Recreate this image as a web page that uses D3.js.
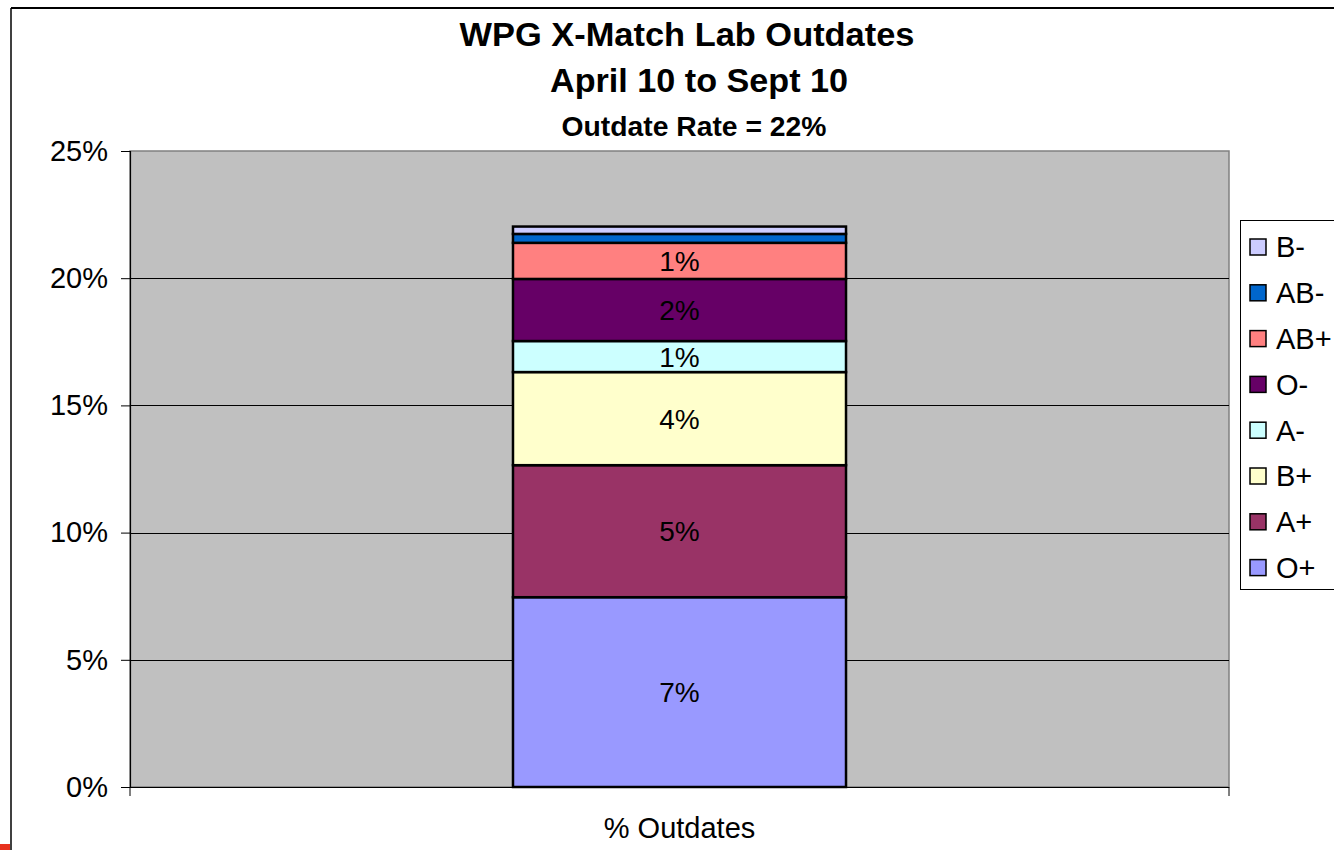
<!DOCTYPE html>
<html>
<head>
<meta charset="utf-8">
<script src="https://cdn.jsdelivr.net/npm/d3@7"></script>
<style>
  body { margin: 0; background: #fff; }
  text { font-family: Arial, "Liberation Sans", sans-serif; }
</style>
</head>
<body>
<div id="vis"></div>
<script>
// blood groups, bottom to top of the stack
var groups = ["O+", "A+", "B+", "A-", "O-", "AB+", "AB-", "B-"];
var outdates = [0.0746, 0.0519, 0.0366, 0.0122, 0.0244, 0.0142, 0.0035, 0.0029];
var groupColors = ["#9999ff", "#993366", "#ffffcc", "#ccffff", "#660066", "#ff8080", "#0066cc", "#ccccff"];
var categories = ["% Outdates"];
var yTicks = [0, 0.05, 0.10, 0.15, 0.20, 0.25];

var width = 1334, height = 850;
var plot = {left: 130, right: 1229, top: 151, bottom: 787};

var svg = d3.select("#vis").append("svg")
    .attr("width", width)
    .attr("height", height);

// outer frame bits
svg.append("line").attr("x1", 11).attr("x2", width).attr("y1", 8).attr("y2", 8)
    .style("stroke", "#000").style("stroke-width", 2);
svg.append("line").attr("x1", 11).attr("x2", 11).attr("y1", 8).attr("y2", height)
    .style("stroke", "#000").style("stroke-width", 1.5);
svg.append("rect").attr("x", 0).attr("y", 844).attr("width", 10).attr("height", 6)
    .style("fill", "#e8321e");

var x = d3.scaleBand()
    .domain(categories)
    .range([plot.left, plot.right])
    .paddingInner(0)
    .paddingOuter(1.15);

var y = d3.scaleLinear()
    .domain([0, 0.25])
    .range([plot.bottom, plot.top]);

// plot area
svg.append("rect")
    .attr("x", plot.left).attr("y", plot.top)
    .attr("width", plot.right - plot.left).attr("height", plot.bottom - plot.top)
    .style("fill", "#c0c0c0")
    .style("stroke", "#808080")
    .style("stroke-width", 1.5);

// gridlines
svg.selectAll(".grid")
    .data(yTicks.filter(function(d) { return d > 0 && d < 0.25; }))
    .enter().append("line")
    .attr("class", "grid")
    .attr("x1", plot.left).attr("x2", plot.right)
    .attr("y1", function(d) { return Math.round(y(d)) + 0.5; })
    .attr("y2", function(d) { return Math.round(y(d)) + 0.5; })
    .style("stroke", "#000").style("stroke-width", 1);

// stacked segments
var stacked = [];
var base = 0;
outdates.forEach(function(v, i) {
    stacked.push({group: groups[i], y0: base, y1: base + v, value: v, color: groupColors[i]});
    base += v;
});

var cat = categories[0];
svg.selectAll(".seg")
    .data(stacked)
    .enter().append("rect")
    .attr("class", "seg")
    .attr("x", x(cat))
    .attr("width", x.bandwidth())
    .attr("y", function(d) { return y(d.y1); })
    .attr("height", function(d) { return y(d.y0) - y(d.y1); })
    .style("fill", function(d) { return d.color; })
    .style("stroke", "#000")
    .style("stroke-width", 2.5);

var pct = d3.format(".0%");
svg.selectAll(".seglabel")
    .data(stacked.filter(function(d) { return d.value >= 0.01; }))
    .enter().append("text")
    .attr("class", "seglabel")
    .attr("x", x(cat) + x.bandwidth() / 2)
    .attr("y", function(d) { return y((d.y0 + d.y1) / 2); })
    .attr("dy", "0.36em")
    .attr("text-anchor", "middle")
    .style("font-size", "28px")
    .style("fill", "#000")
    .text(function(d) { return pct(d.value); });

// y axis
var yAxis = d3.axisLeft(y)
    .tickValues(yTicks)
    .tickFormat(d3.format(".0%"))
    .tickSize(9)
    .tickPadding(13);

var gy = svg.append("g")
    .attr("transform", "translate(" + plot.left + ",0)")
    .call(yAxis);
gy.select(".domain").style("stroke", "#000").style("stroke-width", 1.2);
gy.selectAll(".tick line").style("stroke", "#000");
gy.selectAll(".tick text")
    .style("font-size", "29px")
    .style("font-family", "Arial, 'Liberation Sans', sans-serif")
    .style("fill", "#000");

// x axis
var gx = svg.append("g")
    .attr("transform", "translate(0," + plot.bottom + ")");
gx.append("line")
    .attr("x1", plot.left).attr("x2", plot.right)
    .attr("y1", 0.5).attr("y2", 0.5)
    .style("stroke", "#000").style("stroke-width", 1.2);
gx.selectAll(".xtick")
    .data([plot.left, plot.right])
    .enter().append("line")
    .attr("x1", function(d) { return d; }).attr("x2", function(d) { return d; })
    .attr("y1", 0).attr("y2", 9)
    .style("stroke", "#000");
gx.append("text")
    .attr("x", x(cat) + x.bandwidth() / 2)
    .attr("y", 51)
    .attr("text-anchor", "middle")
    .style("font-size", "29px")
    .style("fill", "#000")
    .text(cat);

// titles
var titles = [
    {t: "WPG X-Match Lab Outdates", cx: 687, y: 46, size: 33, len: 455},
    {t: "April 10 to Sept 10", cx: 699, y: 92, size: 33, len: 298},
    {t: "Outdate Rate = 22%", cx: 694, y: 136, size: 27, len: 265}
];
svg.selectAll(".title")
    .data(titles)
    .enter().append("text")
    .attr("class", "title")
    .attr("x", function(d) { return d.cx - d.len / 2; })
    .attr("y", function(d) { return d.y; })
    .attr("textLength", function(d) { return d.len; })
    .attr("lengthAdjust", "spacingAndGlyphs")
    .style("font-size", function(d) { return d.size + "px"; })
    .style("font-weight", "bold")
    .style("fill", "#000")
    .text(function(d) { return d.t; });

// legend, top entry is last group
var legend = svg.append("g").attr("transform", "translate(1240,220)");
legend.append("rect")
    .attr("x", 0.5).attr("y", 0.5)
    .attr("width", 120).attr("height", 369)
    .style("fill", "#fff")
    .style("stroke", "#000")
    .style("stroke-width", 1);

var legendItems = stacked.slice().reverse();
var item = legend.selectAll(".legend")
    .data(legendItems)
    .enter().append("g")
    .attr("class", "legend")
    .attr("transform", function(d, i) { return "translate(0," + (27 + i * 45.8) + ")"; });

item.append("rect")
    .attr("x", 10).attr("y", -8)
    .attr("width", 16).attr("height", 16)
    .style("fill", function(d) { return d.color; })
    .style("stroke", "#000")
    .style("stroke-width", 1.5);

item.append("text")
    .attr("x", 36)
    .attr("dy", "0.36em")
    .style("font-size", "29px")
    .style("fill", "#000")
    .text(function(d) { return d.group; });
</script>
</body>
</html>
